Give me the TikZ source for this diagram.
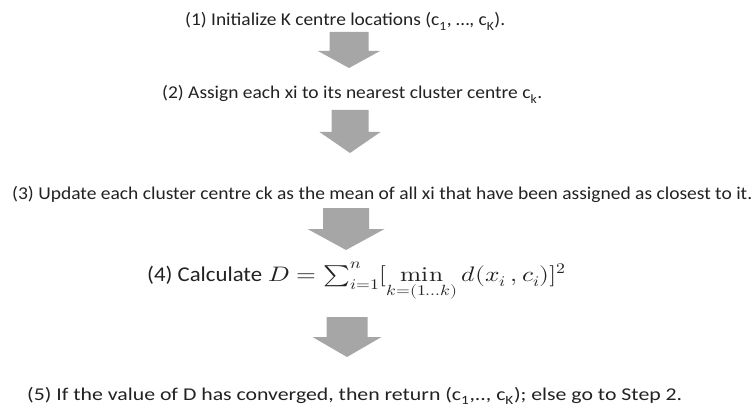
\documentclass[tikz,border=0pt]{standalone}
\usepackage{fontspec}
\usepackage{unicode-math}
\setmainfont{Carlito}
\setmathfont{Latin Modern Math}
\usepackage{graphicx}
\definecolor{arrowgray}{HTML}{A6A6A6}
\definecolor{txt}{HTML}{222222}
\tikzset{
  steptext/.style={anchor=base west, inner sep=0pt, text=txt, font=\fontsize{18}{22}\selectfont},
  blockarrow/.style={fill=arrowgray, draw=none}
}
\newcommand\myblockarrow[8]{% name, cx, top, headtop, tip, halfshaft, halfhead
  \fill[blockarrow] (#2-#6,#3) -- (#2+#6,#3) -- (#2+#6,#4) -- (#2+#7,#4) -- (#2,#5) -- (#2-#7,#4) -- (#2-#6,#4) -- cycle;
  \coordinate (#1) at (#2,#3);
}
\begin{document}
\begin{tikzpicture}[x=1pt,y=-1pt]
\useasboundingbox (0,0) rectangle (756,412);
\fill[white] (0,0) rectangle (756,412);
\node[steptext] (s1) at (185,26) {\resizebox{320pt}{\height}{(1) Initialize K centre locations (c\textsubscript{1}, \ldots, c\textsubscript{K}).}};
\node[steptext] (s2) at (162,99) {\resizebox{380pt}{\height}{(2) Assign each xi to its nearest cluster centre c\textsubscript{k}.}};
\node[steptext] (s3) at (12,199) {\resizebox{740pt}{\height}{(3) Update each cluster centre ck as the mean of all xi that have been assigned as closest to it.}};
\node[steptext, font=\fontsize{21}{25}\selectfont] (s4) at (147,281) {\resizebox{115pt}{\height}{(4) Calculate}\hspace{6pt}\resizebox{298pt}{\height}{$D=\sum_{i=1}^{n}[\mathop{\symup{min}}\limits_{k=(1\ldots k)} d(x_i\,,c_i)]^2$}};
\node[steptext] (s5) at (27,400) {\resizebox{655pt}{\height}{(5) If the value of D has converged, then return (c\textsubscript{1},.., c\textsubscript{K}); else go to Step 2.}};
\myblockarrow{a1}{349}{32}{51}{68}{19.5}{31}{}
\myblockarrow{a2}{350}{110}{132}{153}{18.5}{30.5}{}
\myblockarrow{a3}{346}{208}{229}{250}{23}{38.5}{}
\myblockarrow{a4}{347}{317}{337}{357}{20.5}{34.5}{}
\end{tikzpicture}
\end{document}
